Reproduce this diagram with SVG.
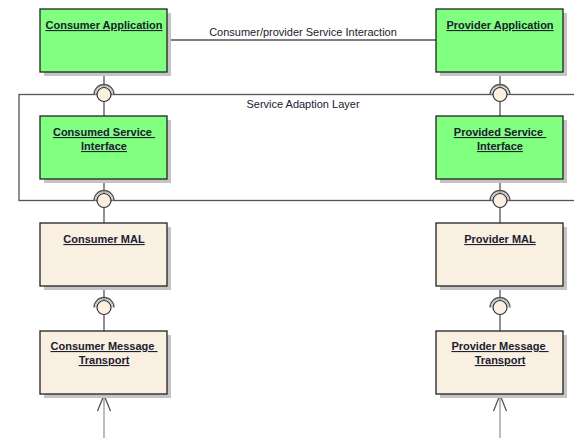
<svg xmlns="http://www.w3.org/2000/svg" width="574" height="438" viewBox="0 0 574 438">
<style>
.shadow{fill:#c4c4c4;stroke:none}
.green{fill:#80ff80;stroke:#222;stroke-width:1.3}
.beige{fill:#faf0e1;stroke:#222;stroke-width:1.3}
.lbl{font-family:"Liberation Sans",Arial,sans-serif;font-size:11px;font-weight:bold;fill:#1c2030;text-anchor:middle;text-decoration:underline}
.txt{font-family:"Liberation Sans",Arial,sans-serif;font-size:11px;fill:#1c2030;text-anchor:middle}
.conn{stroke:#555;stroke-width:1.3;fill:none}
.ball{fill:#fcf0e0;stroke:#333;stroke-width:1.2}
.sock{fill:none;stroke:#555;stroke-width:1.3}
.sock2{fill:none;stroke:#bbb;stroke-width:1}
</style>
<defs>
<g id="iface">
<path class="sock" d="M-10,0 A10,10 0 0 1 10,0"/>
<path class="sock2" d="M-8.5,0 A8.5,8.5 0 0 1 8.5,0"/>
<circle class="ball" r="7" cx="0" cy="0"/>
</g>
</defs>
<g id="connectors">
<line class="conn" x1="167" y1="40" x2="436" y2="40"/>
<line class="conn" x1="104" y1="72" x2="104" y2="223"/>
<line class="conn" x1="500" y1="72" x2="500" y2="223"/>
<line class="conn" x1="104" y1="286" x2="104" y2="331"/>
<line class="conn" x1="500" y1="286" x2="500" y2="331"/>
<line stroke="#999" stroke-width="1.3" x1="104" y1="395" x2="104" y2="438"/>
<line stroke="#999" stroke-width="1.3" x1="500" y1="395" x2="500" y2="438"/>
<path class="conn" d="M97.5,411 L104,395 L110.5,411"/>
<path class="conn" d="M493.5,411 L500,395 L506.5,411"/>
<text class="txt" x="303" y="36">Consumer/provider Service Interaction</text>
</g>
<g id="layer">
<rect x="19" y="94.5" width="570" height="106" fill="none" stroke="#555" stroke-width="1.3"/>
<text class="txt" x="303" y="108">Service Adaption Layer</text>
</g>
<g id="consumer-application">
<rect class="shadow" x="44" y="13" width="127" height="63"/>
<rect class="green" x="40" y="9" width="127" height="63"/>
<text class="lbl" x="104" y="29">Consumer Application</text>
</g>
<g id="provider-application">
<rect class="shadow" x="440" y="13" width="127" height="63"/>
<rect class="green" x="436" y="9" width="127" height="63"/>
<text class="lbl" x="500" y="29">Provider Application</text>
</g>
<g id="consumed-service-interface">
<rect class="shadow" x="44" y="120" width="127" height="63"/>
<rect class="green" x="40" y="116" width="127" height="63"/>
<text class="lbl" x="104" y="136" xml:space="preserve">Consumed Service </text>
<text class="lbl" x="104" y="150">Interface</text>
</g>
<g id="provided-service-interface">
<rect class="shadow" x="440" y="120" width="127" height="63"/>
<rect class="green" x="436" y="116" width="127" height="63"/>
<text class="lbl" x="500" y="136" xml:space="preserve">Provided Service </text>
<text class="lbl" x="500" y="150">Interface</text>
</g>
<g id="consumer-mal">
<rect class="shadow" x="44" y="227" width="127" height="63"/>
<rect class="beige" x="40" y="223" width="127" height="63"/>
<text class="lbl" x="104" y="243">Consumer MAL</text>
</g>
<g id="provider-mal">
<rect class="shadow" x="440" y="227" width="127" height="63"/>
<rect class="beige" x="436" y="223" width="127" height="63"/>
<text class="lbl" x="500" y="243">Provider MAL</text>
</g>
<g id="consumer-message-transport">
<rect class="shadow" x="44" y="335" width="127" height="63"/>
<rect class="beige" x="40" y="331" width="127" height="63"/>
<text class="lbl" x="104" y="350" xml:space="preserve">Consumer Message </text>
<text class="lbl" x="104" y="364">Transport</text>
</g>
<g id="provider-message-transport">
<rect class="shadow" x="440" y="335" width="127" height="63"/>
<rect class="beige" x="436" y="331" width="127" height="63"/>
<text class="lbl" x="500" y="350" xml:space="preserve">Provider Message </text>
<text class="lbl" x="500" y="364">Transport</text>
</g>
<g id="interfaces">
<use href="#iface" x="104" y="94.5"/>
<use href="#iface" x="500" y="94.5"/>
<use href="#iface" x="104" y="200.5"/>
<use href="#iface" x="500" y="200.5"/>
<use href="#iface" x="104" y="307.5"/>
<use href="#iface" x="500" y="307.5"/>
</g>
</svg>
